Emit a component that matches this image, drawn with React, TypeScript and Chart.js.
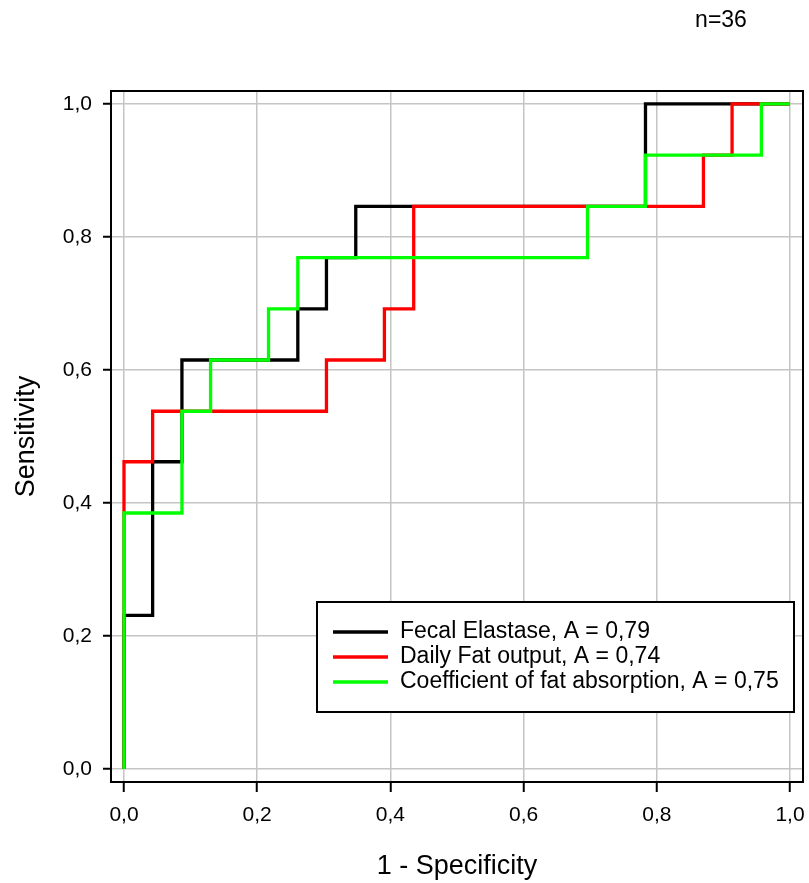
import React, { useEffect, useRef } from 'react';
import { Chart, registerables } from 'chart.js';

Chart.register(...registerables);

const seriesLabels = [
  'Fecal Elastase, A = 0,79',
  'Daily Fat output, A = 0,74',
  'Coefficient of fat absorption, A = 0,75',
];
const seriesColors = ['#000000', '#ff0000', '#00ff00'];

const elastaseFpr = [0, 0, 0.043, 0.087, 0.261, 0.304, 0.348, 0.783, 1.0];
const elastaseTpr = [0, 0.231, 0.462, 0.615, 0.692, 0.769, 0.846, 1.0, 1.0];

const fatOutputFpr = [0, 0, 0.043, 0.304, 0.391, 0.435, 0.87, 0.913, 1.0];
const fatOutputTpr = [0, 0.462, 0.538, 0.615, 0.692, 0.846, 0.923, 1.0, 1.0];

const absorptionFpr = [0, 0, 0.087, 0.13, 0.217, 0.261, 0.696, 0.783, 0.957, 1.0];
const absorptionTpr = [0, 0.385, 0.538, 0.615, 0.692, 0.769, 0.846, 0.923, 1.0, 1.0];

const tickValues = [0, 0.2, 0.4, 0.6, 0.8, 1.0];
const tickLabels = ['0,0', '0,2', '0,4', '0,6', '0,8', '1,0'];

const sampleNote = 'n=36';
const xTitle = '1 - Specificity';
const yTitle = 'Sensitivity';

const FONT = '"Liberation Sans", Arial, sans-serif';

const toPoints = (xs: number[], ys: number[]) => xs.map((x, i) => ({ x, y: ys[i] }));

const framePlugin = {
  id: 'frameAndExtras',
  afterDraw(chart: any) {
    const { ctx, chartArea: a } = chart;
    ctx.save();
    // frame
    ctx.strokeStyle = '#000';
    ctx.lineWidth = 2;
    ctx.strokeRect(a.left, a.top, a.right - a.left, a.bottom - a.top);

    // legend box
    const lx = a.left + 206;
    const ly = a.top + 511;
    const lw = 477;
    const lh = 110;
    ctx.fillStyle = '#fff';
    ctx.fillRect(lx, ly, lw, lh);
    ctx.strokeStyle = '#000';
    ctx.lineWidth = 2;
    ctx.strokeRect(lx, ly, lw, lh);
    ctx.font = `23px ${FONT}`;
    ctx.textBaseline = 'middle';
    ctx.textAlign = 'left';
    chart.data.datasets.forEach((ds: any, i: number) => {
      const y = ly + 30 + i * 25;
      ctx.strokeStyle = ds.borderColor;
      ctx.lineWidth = 3.3;
      ctx.beginPath();
      ctx.moveTo(lx + 16, y);
      ctx.lineTo(lx + 71, y);
      ctx.stroke();
      ctx.fillStyle = '#000';
      ctx.fillText(ds.label, lx + 83, y);
    });

    // sample size note
    ctx.font = `23px ${FONT}`;
    ctx.textAlign = 'center';
    ctx.textBaseline = 'middle';
    ctx.fillStyle = '#000';
    ctx.fillText(sampleNote, 721, 21);
    ctx.restore();
  },
};

export default function App() {
  const ref = useRef<HTMLCanvasElement | null>(null);

  useEffect(() => {
    if (!ref.current) return;
    const mk = (i: number, xs: number[], ys: number[], order: number) => ({
      label: seriesLabels[i],
      data: toPoints(xs, ys),
      borderColor: seriesColors[i],
      backgroundColor: seriesColors[i],
      borderWidth: 3.3,
      pointRadius: 0,
      stepped: true,
      fill: false,
      tension: 0,
      borderJoinStyle: 'miter',
      borderCapStyle: 'butt',
      order,
    });
    const tickOpts = {
      font: { family: FONT, size: 21 },
      color: '#000',
      padding: 11,
      maxRotation: 0,
      autoSkip: false,
      callback: (v: any) => {
        const idx = tickValues.findIndex((t) => Math.abs(t - v) < 1e-9);
        return idx >= 0 ? tickLabels[idx] : '';
      },
    };
    const chart = new Chart(ref.current, {
      type: 'line',
      data: {
        datasets: [
          mk(0, elastaseFpr, elastaseTpr, 3),
          mk(1, fatOutputFpr, fatOutputTpr, 2),
          mk(2, absorptionFpr, absorptionTpr, 1),
        ] as any,
      },
      options: {
        animation: false,
        responsive: false,
        maintainAspectRatio: false,
        layout: { padding: { top: 91, right: 6, bottom: 0, left: 0 } },
        plugins: {
          legend: { display: false },
          tooltip: { enabled: false },
          title: { display: false },
        },
        scales: {
          x: {
            type: 'linear',
            min: -0.0195,
            max: 1.0195,
            afterBuildTicks: (s: any) => {
              s.ticks = tickValues.map((v) => ({ value: v }));
            },
            afterFit: (s: any) => {
              s.height = 101;
              s.paddingLeft = 0;
              s.paddingRight = 0;
            },
            ticks: tickOpts as any,
            grid: {
              color: '#c4c4c4',
              lineWidth: 1.5,
              tickColor: '#000',
              tickWidth: 2,
              tickLength: 10,
              drawTicks: true,
            },
            border: { display: false },
            title: {
              display: true,
              text: xTitle,
              color: '#000',
              font: { family: FONT, size: 27 },
              padding: { top: 0, bottom: 0 },
            },
          },
          y: {
            type: 'linear',
            min: -0.0195,
            max: 1.0195,
            afterBuildTicks: (s: any) => {
              s.ticks = tickValues.map((v) => ({ value: v }));
            },
            afterFit: (s: any) => {
              s.width = 111;
              s.paddingTop = 0;
              s.paddingBottom = 0;
            },
            ticks: tickOpts as any,
            grid: {
              color: '#c4c4c4',
              lineWidth: 1.5,
              tickColor: '#000',
              tickWidth: 2,
              tickLength: 8,
              drawTicks: true,
            },
            border: { display: false },
            title: {
              display: true,
              text: yTitle,
              color: '#000',
              font: { family: FONT, size: 27 },
              padding: { top: 10, bottom: 0 },
            },
          },
        },
      } as any,
      plugins: [framePlugin],
    });
    return () => chart.destroy();
  }, []);

  return (
    <div style={{ position: 'fixed', left: 0, top: 0, width: 809, height: 883, background: '#fff' }}>
      <canvas ref={ref} width={809} height={883} style={{ display: 'block', width: 809, height: 883 }} />
    </div>
  );
}
